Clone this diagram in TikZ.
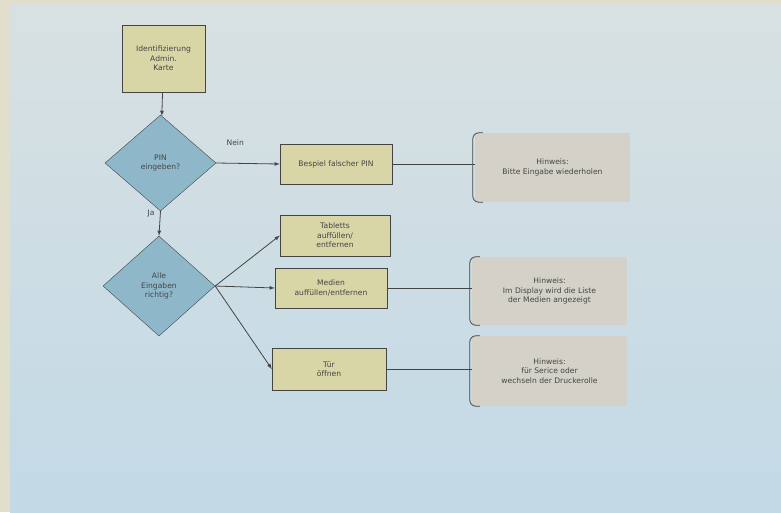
\documentclass[tikz,border=0pt]{standalone}
\usepackage{fontspec}
\setmainfont{DejaVu Sans}
\usetikzlibrary{shapes.geometric}
\definecolor{paperbg}{RGB}{216,225,226}
\definecolor{paperlow}{RGB}{194,217,230}
\definecolor{rimbg}{RGB}{226,222,204}
\definecolor{boxfill}{RGB}{216,214,166}
\definecolor{decfill}{RGB}{142,184,202}
\definecolor{notefill}{RGB}{212,210,200}
\definecolor{inkgrey}{RGB}{68,68,68}

\begin{document}
\begin{tikzpicture}[x=1pt, y=-1pt,
  every node/.style={font=\fontsize{7.6}{9.4}\selectfont, text=inkgrey, align=center},
  stepbox/.style={rectangle, draw=inkgrey, fill=boxfill, inner sep=0pt},
  decision/.style={diamond, draw=inkgrey, fill=decfill, inner sep=0pt, aspect=1.15},
  notebox/.style={rectangle, fill=notefill, inner sep=0pt},
  link/.style={draw=inkgrey, line width=0.8pt},
  arrow/.style={link, -latex}]
  % paper
  \fill[rimbg] (0,0) rectangle (781,512);
  \shade[top color=paperbg, bottom color=paperlow] (10,4) rectangle (781,512);
  \useasboundingbox (0,0) rectangle (781,512);
  % steps
  \node[stepbox, minimum width=83pt, minimum height=67pt] (start) at (163.5,58.5) {Identifizierung\\Admin.\\Karte};
  \node[decision, minimum width=111pt, minimum height=96pt] (pin) at (160.5,163) {PIN\\eingeben?};
  \node[stepbox, minimum width=112pt, minimum height=40pt] (wrong) at (336,164) {Bespiel falscher PIN};
  \node[decision, minimum width=112pt, minimum height=100pt] (check) at (159,286) {Alle\\Eingaben\\richtig?};
  \node[stepbox, minimum width=110pt, minimum height=41pt] (tabs) at (335,235.5) {Tabletts\\auffüllen/\\entfernen};
  \node[stepbox, minimum width=112pt, minimum height=40pt] (media) at (331,288) {Medien\\auffüllen/entfernen};
  \node[stepbox, minimum width=114pt, minimum height=42pt] (door) at (329,369) {Tür\\öffnen};
  % notes
  \node[notebox, minimum width=155pt, minimum height=69pt] (hint1) at (552.5,167.5) {Hinweis:\\Bitte Eingabe wiederholen};
  \node[notebox, minimum width=155pt, minimum height=68pt] (hint2) at (549.5,291) {Hinweis:\\Im Display wird die Liste\\der Medien angezeigt};
  \node[notebox, minimum width=155pt, minimum height=70pt] (hint3) at (549.5,371) {Hinweis:\\für Serice oder\\wechseln der Druckerolle};
  \foreach \h in {hint1,hint2,hint3}
    \draw[link, rounded corners=6pt] ([xshift=8pt]\h.north west) -- ([xshift=-2pt]\h.north west)
      -- ([xshift=-2pt]\h.south west) -- ([xshift=8pt]\h.south west);
  % connectors
  \draw[arrow] (start) -- (pin);
  \draw[arrow] (pin.east) -- (wrong.west) node[pos=0.3, above=14pt] {Nein};
  \draw[arrow] (pin.south) -- (check.north) node[pos=0.1, left=2pt] {Ja};
  \draw[arrow] (check.east) -- (tabs.west);
  \draw[arrow] (check.east) -- (media.west);
  \draw[arrow] (check.east) -- (door.west);
  \draw[link] (wrong.east) -- (wrong.east -| hint1.west);
  \draw[link] (media.east) -- (media.east -| hint2.west);
  \draw[link] (door.east) -- (door.east -| hint3.west);
\end{tikzpicture}
\end{document}
